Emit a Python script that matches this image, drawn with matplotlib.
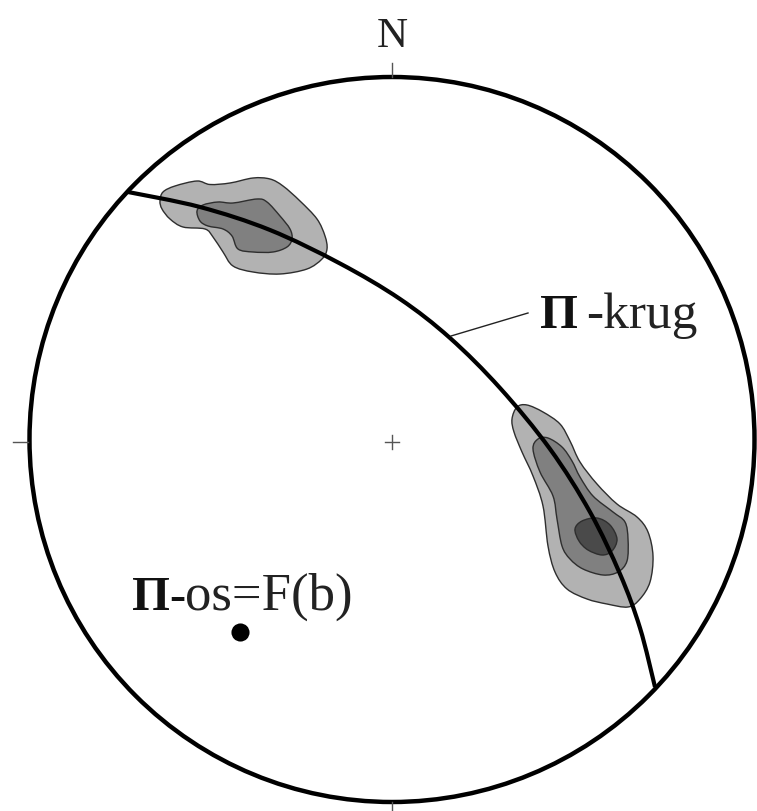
import numpy as np
import matplotlib
matplotlib.use("Agg")
import matplotlib.pyplot as plt
from matplotlib.path import Path
from matplotlib.patches import PathPatch, Circle

net_center = (392, 440.5)
net_radius = 362.5
center_cross = (392, 443)
pole = (240, 633)

girdle = [(128, 193), (200, 208), (270, 231), (340, 264.5), (400, 300), (450, 339),
          (500, 389), (550, 450), (590, 513), (620, 575), (640, 629), (655, 688)]

nw_outer = [(160, 202), (163, 193), (175, 187), (197, 182), (210, 185.5), (230, 184),
            (253, 179), (270, 180), (283, 187), (300, 202), (317, 220), (325, 237),
            (327, 250), (322, 260), (307, 270), (280, 275), (253, 273), (233, 267),
            (223, 253), (213, 238), (205, 230), (183, 228), (170, 220), (162, 210)]
nw_inner = [(197, 212), (203, 206), (218, 203), (233, 204), (257, 200), (267, 203),
            (280, 217), (290, 230), (292, 240), (287, 248), (273, 253), (253, 253),
            (238, 250), (232, 237), (223, 230), (208, 227), (200, 222)]
se_outer = [(512, 420), (517, 408), (527, 406), (543, 413), (560, 425), (570, 442),
            (580, 463), (597, 485), (617, 505), (637, 518), (648, 533), (653, 557),
            (650, 583), (640, 600), (628, 608), (607, 605), (587, 600), (567, 590),
            (555, 573), (548, 547), (543, 507), (533, 477), (522, 453), (514, 433)]
se_mid = [(533, 450), (538, 440), (548, 439), (562, 448), (572, 462), (580, 478),
          (593, 497), (613, 513), (625, 523), (628, 540), (627, 562), (618, 573),
          (603, 576), (583, 570), (570, 560), (562, 547), (557, 520), (553, 497),
          (540, 473)]
se_core = [(575, 530), (582, 522), (597, 519), (610, 526), (617, 540), (612, 552),
           (602, 556), (588, 551), (579, 542)]

GREY_LOW = "#b2b2b2"
GREY_MID = "#808080"
GREY_HIGH = "#4a4a4a"
SERIF = "Liberation Serif"


def smooth_path(pts, closed=True):
    # catmull-rom through the points, written as bezier segments
    p = np.array(pts, dtype=float)
    n = len(p)
    verts = [p[0]]
    codes = [Path.MOVETO]
    for i in range(n if closed else n - 1):
        if closed:
            p0, p1, p2, p3 = p[(i - 1) % n], p[i], p[(i + 1) % n], p[(i + 2) % n]
        else:
            p0, p1, p2, p3 = p[max(i - 1, 0)], p[i], p[i + 1], p[min(i + 2, n - 1)]
        verts += [p1 + (p2 - p0) / 6, p2 - (p3 - p1) / 6, p2]
        codes += [Path.CURVE4] * 3
    return Path(verts, codes)


fig = plt.figure(figsize=(7.57, 8.12), dpi=100)
ax = fig.add_axes([0, 0, 1, 1])
ax.set_xlim(0, 757)
ax.set_ylim(812, 0)
ax.axis("off")

for pts, col in [(nw_outer, GREY_LOW), (nw_inner, GREY_MID), (se_outer, GREY_LOW),
                 (se_mid, GREY_MID), (se_core, GREY_HIGH)]:
    ax.add_patch(PathPatch(smooth_path(pts), facecolor=col, edgecolor="#2e2e2e", lw=1.0))

ax.add_patch(PathPatch(smooth_path(girdle, closed=False), facecolor="none",
                       edgecolor="black", lw=3.0, capstyle="butt"))
ax.add_patch(Circle(net_center, net_radius, facecolor="none", edgecolor="black", lw=3.2))

# ticks round the net and the centre cross
cx, cy = center_cross
for xs, ys in [((392, 392), (64, 78)), ((13, 28), (443, 443)), ((392, 392), (803, 812)),
               ((cx - 7, cx + 7), (cy, cy)), ((cx, cx), (cy - 7, cy + 7))]:
    ax.plot(xs, ys, color="#555555", lw=1.0)

ax.plot([451, 528], [337, 314], color="#222222", lw=1.0)
ax.scatter(*pole, s=170, color="black", zorder=5, linewidths=0)

ax.text(392, 47, "N", family=SERIF, fontsize=31, ha="center", va="baseline", color="#222222")
ax.text(540, 328, "Π", family=SERIF, fontsize=35, weight="bold", va="baseline", color="#111111")
ax.text(586, 328, "-krug", family=SERIF, fontsize=37, va="baseline", color="#222222")
ax.text(132, 610, "Π-", family=SERIF, fontsize=35, weight="bold", va="baseline", color="#111111")
ax.text(185, 610, "os=F(b)", family=SERIF, fontsize=38, va="baseline", color="#222222")

fig.savefig("out.png", dpi=100)
